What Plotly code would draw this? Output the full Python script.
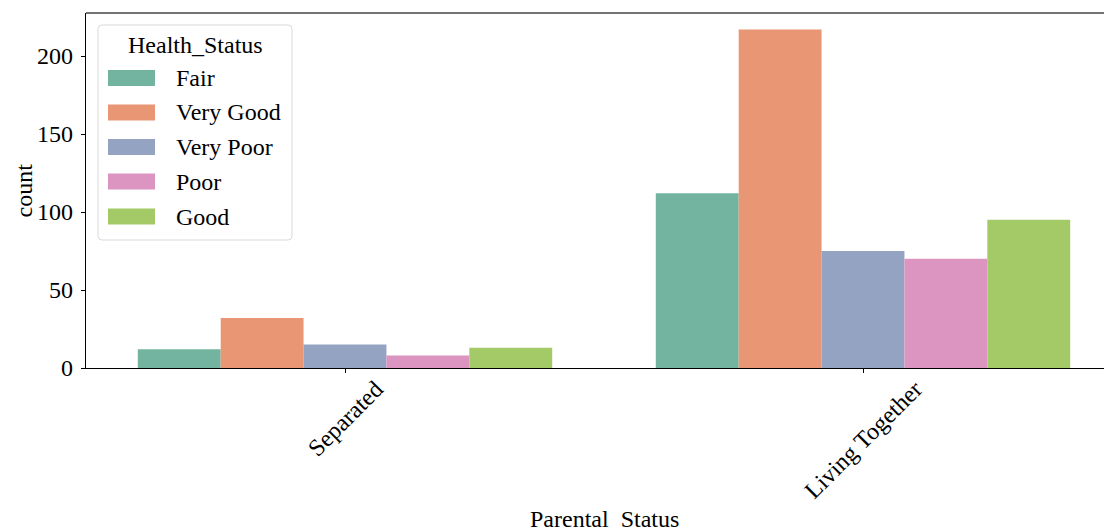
import plotly.graph_objects as go

parental = ["Separated", "Living Together"]
statuses = ["Fair", "Very Good", "Very Poor", "Poor", "Good"]
fair = [12, 112]
very_good = [32, 217]
very_poor = [15, 75]
poor = [8, 70]
good = [13, 95]
series = [fair, very_good, very_poor, poor, good]
colors = ["#72b49f", "#e89674", "#95a3c3", "#dc94c0", "#a4c967"]

OFF = 8  # page body margin
W, H = 1112 - OFF, 532 - OFF
L, T, B = 86 - OFF, 13 - OFF, 368 - OFF
PW, PH = W - L, B - T
FONT = "Liberation Serif, Times New Roman, serif"
FS = 24


def px(x):  # x in page pixels
    return (x - OFF - L) / PW


def py(y):  # y in page pixels
    return (B - (y - OFF)) / PH


fig = go.Figure()
for name, vals, col in zip(statuses, series, colors):
    fig.add_trace(go.Bar(x=parental, y=vals, name=name, marker=dict(color=col, line=dict(width=0)),
                         showlegend=False))

shapes = []
annotations = []

# top spine
shapes.append(dict(type="line", xref="paper", yref="paper", x0=0, x1=1, y0=1, y1=1,
                   line=dict(color="#444444", width=1.3)))

# legend box (rounded)
x0, x1, y0, y1, r = 98, 292, 25, 240, 4
path = (f"M {px(x0 + r)} {py(y0)} L {px(x1 - r)} {py(y0)} Q {px(x1)} {py(y0)} {px(x1)} {py(y0 + r)} "
        f"L {px(x1)} {py(y1 - r)} Q {px(x1)} {py(y1)} {px(x1 - r)} {py(y1)} "
        f"L {px(x0 + r)} {py(y1)} Q {px(x0)} {py(y1)} {px(x0)} {py(y1 - r)} "
        f"L {px(x0)} {py(y0 + r)} Q {px(x0)} {py(y0)} {px(x0 + r)} {py(y0)} Z")
shapes.append(dict(type="path", xref="paper", yref="paper", path=path,
                   fillcolor="rgba(255,255,255,0.85)", line=dict(color="#d9d9d9", width=1)))

annotations.append(dict(text="Health_Status", xref="paper", yref="paper", x=px(195), y=py(45),
                        xanchor="center", yanchor="middle", showarrow=False,
                        font=dict(family=FONT, size=FS, color="black")))
centers = [78, 112.5, 147, 181.5, 216.5]
for name, col, cy in zip(statuses, colors, centers):
    shapes.append(dict(type="rect", xref="paper", yref="paper", x0=px(108), x1=px(155),
                       y0=py(cy + 8), y1=py(cy - 8), fillcolor=col, line=dict(width=0)))
    annotations.append(dict(text=name, xref="paper", yref="paper", x=px(174), y=py(cy),
                            xanchor="left", yanchor="middle", showarrow=False,
                            font=dict(family=FONT, size=FS, color="black")))

# rotated category labels
for cat in parental:
    annotations.append(dict(text=cat, xref="x", yref="paper", x=cat, y=0, xanchor="center",
                            yanchor="top", yshift=-5, textangle=-45, showarrow=False,
                            font=dict(family=FONT, size=FS, color="black")))

# axis titles
annotations.append(dict(text="Parental\u00a0 Status", xref="x", yref="paper", x=0.5, y=0,
                        xanchor="center", yanchor="middle", yshift=-(519 - 368), showarrow=False,
                        font=dict(family=FONT, size=FS, color="black")))
annotations.append(dict(text="count", xref="paper", yref="paper", x=0, y=0.5, xshift=-(86 - 23),
                        xanchor="center", yanchor="middle", textangle=-90, showarrow=False,
                        borderpad=0, font=dict(family=FONT, size=FS, color="black")))

fig.update_layout(
    width=W, height=H,
    margin=dict(l=L, r=0, t=T, b=H - B, pad=0),
    paper_bgcolor="white", plot_bgcolor="white",
    barmode="group", bargap=0.2, bargroupgap=0,
    showlegend=False,
    shapes=shapes, annotations=annotations,
    font=dict(family=FONT, size=FS, color="black"),
)
fig.update_xaxes(type="category", range=[-0.5, 1.4807], showgrid=False, zeroline=False,
                 showline=True, linecolor="black", linewidth=1.3, ticks="outside", ticklen=4,
                 tickcolor="black", showticklabels=False)
fig.update_yaxes(range=[0, 227.6], tickvals=[0, 50, 100, 150, 200], showgrid=False, zeroline=False,
                 showline=True, linecolor="black", linewidth=1.3, ticks="outside", ticklen=4,
                 tickcolor="black", ticklabelstandoff=3,
                 tickfont=dict(family=FONT, size=FS, color="black"))

fig.write_html("out.html")
